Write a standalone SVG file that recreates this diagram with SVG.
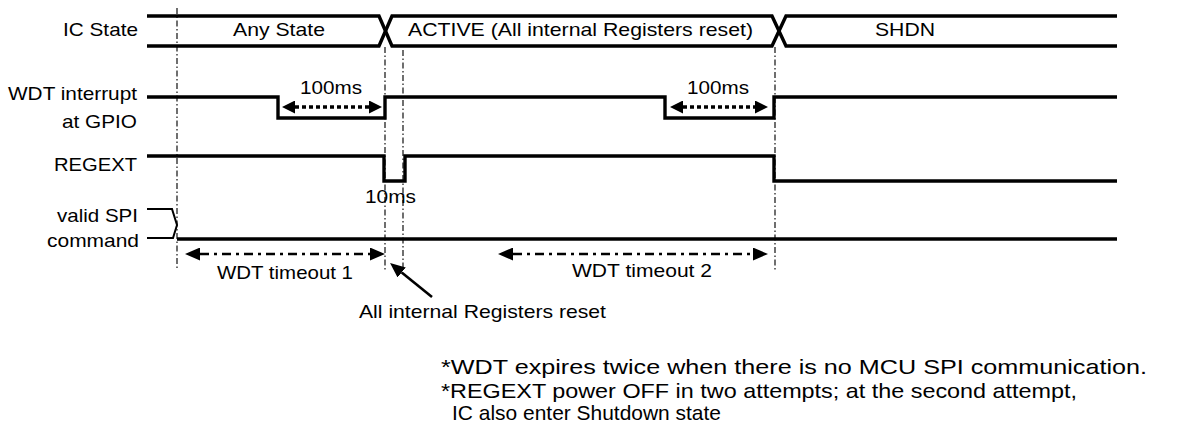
<svg xmlns="http://www.w3.org/2000/svg" width="1190" height="436" viewBox="0 0 1190 436">
<style>
  text { font-family: "Liberation Sans", Arial, sans-serif; fill: #000; }
  .lbl { font-size: 18.5px; }
  .note { font-size: 21px; }
  .sig { fill: none; stroke: #000; stroke-width: 3.4; stroke-linejoin: miter; }
  .thin { fill: none; stroke: #000; stroke-width: 2; }
  .guide { fill: none; stroke: #222; stroke-width: 1.3; stroke-dasharray: 6 2.5 1.5 2.5; }
  .dot { fill: none; stroke: #000; stroke-width: 3.4; stroke-dasharray: 4 3; }
  .dashdot { fill: none; stroke: #000; stroke-width: 2.6; stroke-dasharray: 9 5 3 5; }
  .solid { fill: none; stroke: #000; stroke-width: 2.6; }
</style>
<defs>
  <marker id="ah" markerUnits="userSpaceOnUse" viewBox="0 0 13 13" refX="0" refY="6.5" markerWidth="13" markerHeight="13" orient="auto-start-reverse">
    <path d="M0,0 L13,6.5 L0,13 Z" fill="#000"/>
  </marker>
  <marker id="ahb" markerUnits="userSpaceOnUse" viewBox="0 0 15 13" refX="0" refY="6.5" markerWidth="15" markerHeight="13" orient="auto-start-reverse">
    <path d="M0,0 L15,6.5 L0,13 Z" fill="#000"/>
  </marker>
</defs>

<g id="guides">
  <line class="guide" x1="177" y1="8" x2="177" y2="268"/>
  <line class="guide" x1="385" y1="47" x2="385" y2="270"/>
  <line class="guide" x1="403" y1="50" x2="403" y2="268"/>
  <line class="guide" x1="775" y1="47" x2="775" y2="272"/>
</g>

<g id="ic-state">
  <text class="lbl" x="63" y="36" textLength="75" lengthAdjust="spacingAndGlyphs">IC State</text>
  <path class="sig" d="M147,16 H379 L392,46 H772 L786,16 H1117"/>
  <path class="sig" d="M147,46 H379 L392,16 H772 L786,46 H1117"/>
  <text class="lbl" x="233" y="36" textLength="92" lengthAdjust="spacingAndGlyphs">Any State</text>
  <text class="lbl" x="408" y="36" textLength="345" lengthAdjust="spacingAndGlyphs">ACTIVE (All internal Registers reset)</text>
  <text class="lbl" x="875" y="36" textLength="60" lengthAdjust="spacingAndGlyphs">SHDN</text>
</g>

<g id="wdt-interrupt">
  <text class="lbl" x="8" y="100" textLength="129" lengthAdjust="spacingAndGlyphs">WDT interrupt</text>
  <text class="lbl" x="62" y="128" textLength="75" lengthAdjust="spacingAndGlyphs">at GPIO</text>
  <path class="sig" d="M147,97 H278 V118 H385 V97 H665 V118 H774 V97 H1117"/>
  <text class="lbl" x="300" y="94" textLength="62" lengthAdjust="spacingAndGlyphs">100ms</text>
  <text class="lbl" x="687" y="94" textLength="62" lengthAdjust="spacingAndGlyphs">100ms</text>
</g>

<g id="regext">
  <text class="lbl" x="54" y="171" textLength="83" lengthAdjust="spacingAndGlyphs">REGEXT</text>
  <path class="sig" d="M147,156 H384 V181 H405 V156 H774 V181 H1117"/>
  <text class="lbl" x="365" y="203" textLength="51" lengthAdjust="spacingAndGlyphs">10ms</text>
</g>

<g id="spi">
  <text class="lbl" x="57" y="222" textLength="81" lengthAdjust="spacingAndGlyphs">valid SPI</text>
  <text class="lbl" x="47" y="247" textLength="92" lengthAdjust="spacingAndGlyphs">command</text>
  <path class="thin" d="M147,209 H172 L177,225 L173,238 H147"/>
  <path class="sig" d="M177,239 H1117"/>
</g>

<g id="timeouts">
  <text class="lbl" x="217" y="279" textLength="136" lengthAdjust="spacingAndGlyphs">WDT timeout 1</text>
  <text class="lbl" x="572" y="277" textLength="140" lengthAdjust="spacingAndGlyphs">WDT timeout 2</text>
  <text class="lbl" x="359" y="318" textLength="247" lengthAdjust="spacingAndGlyphs">All internal Registers reset</text>
</g>

<g id="connectors">
  <line class="dot" x1="295" y1="107" x2="369" y2="107" marker-start="url(#ah)" marker-end="url(#ah)"/>
  <line class="dot" x1="683" y1="107" x2="755" y2="107" marker-start="url(#ah)" marker-end="url(#ah)"/>
  <line class="dashdot" x1="200" y1="254" x2="370" y2="254" marker-start="url(#ahb)" marker-end="url(#ahb)"/>
  <line class="dashdot" x1="513" y1="254" x2="753" y2="254" marker-start="url(#ahb)" marker-end="url(#ahb)"/>
  <line class="solid" x1="432" y1="297" x2="401.7" y2="272.5" marker-end="url(#ahb)"/>
</g>

<g id="notes">
  <text class="note" x="441" y="374" textLength="706" lengthAdjust="spacingAndGlyphs">*WDT expires twice when there is no MCU SPI communication.</text>
  <text class="note" x="441" y="398" textLength="636" lengthAdjust="spacingAndGlyphs">*REGEXT power OFF in two attempts; at the second attempt,</text>
  <text class="note" x="452" y="420" textLength="269" lengthAdjust="spacingAndGlyphs">IC also enter Shutdown state</text>
</g>
</svg>
